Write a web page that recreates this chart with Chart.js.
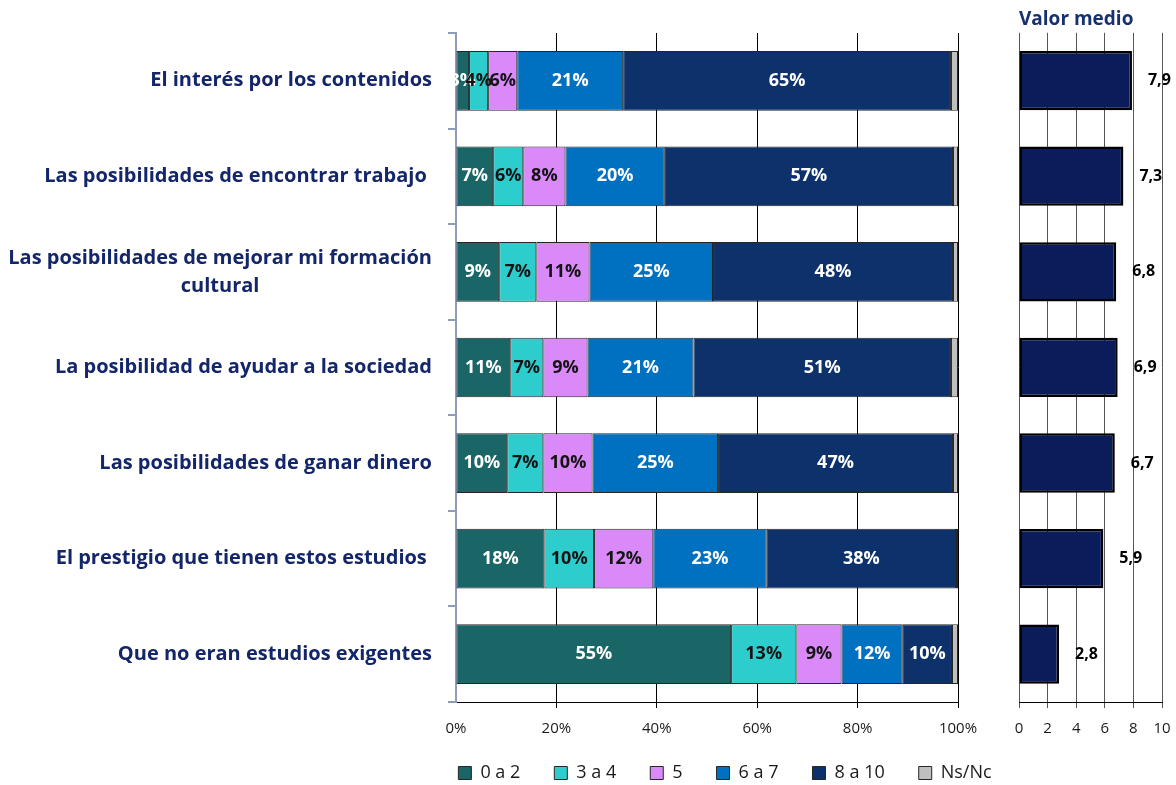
<!DOCTYPE html>
<html lang="es">
<head>
<meta charset="utf-8">
<title>Valor medio</title>
<script src="https://cdn.jsdelivr.net/npm/chart.js@4.4.1/dist/chart.umd.min.js"></script>
<style>
    html, body { margin: 0; padding: 0; overflow: hidden; background: #fff; }
    #graficoIzq { position: absolute; left: 0; top: 0; }
    #graficoDer { position: absolute; left: 1000px; top: 0; }
</style>
</head>
<body>
<canvas id="graficoIzq" width="1032" height="802"></canvas>
<canvas id="graficoDer" width="176" height="785"></canvas>

<script>
const categorias = [
    'El interés por los contenidos',
    'Las posibilidades de encontrar trabajo ',
    ['Las posibilidades de mejorar mi formación', 'cultural'],
    'La posibilidad de ayudar a la sociedad',
    'Las posibilidades de ganar dinero',
    'El prestigio que tienen estos estudios ',
    'Que no eran estudios exigentes'
];

// porcentajes por tramo de valoración
const s0a2  = [2.6, 7.4, 8.6, 10.8, 10.2, 17.6, 54.8];
const s3a4  = [3.8, 6.0, 7.4, 6.6, 7.2, 9.9, 13.0];
const s5    = [5.8, 8.4, 10.6, 8.8, 9.8, 11.8, 9.0];
const s6a7  = [21.1, 19.8, 24.6, 21.1, 25.0, 22.6, 12.2];
const s8a10 = [65.3, 57.4, 47.8, 51.3, 46.8, 37.7, 9.8];
const nsnc  = [1.4, 1.0, 1.0, 1.4, 1.0, 0.4, 1.2];

const valorMedio = [7.9, 7.3, 6.8, 6.9, 6.7, 5.9, 2.8];

const ticksPorcentaje = [0, 20, 40, 60, 80, 100];
const ticksValor = [0, 2, 4, 6, 8, 10];

Chart.defaults.font.family = "'Open Sans', sans-serif";

// textos de las categorias a la izquierda
const etiquetasCategorias = {
    id: 'etiquetasCategorias',
    afterDraw(chart) {
        const c = chart.ctx;
        const ejeY = chart.scales.y;
        c.save();
        c.font = "bold 20px 'Open Sans'";
        c.fillStyle = '#14266a';
        c.textBaseline = 'middle';
        categorias.forEach((cat, i) => {
            const lineas = Array.isArray(cat) ? cat : [cat];
            const yc = ejeY.getPixelForValue(i);
            const ancho = Math.max(...lineas.map(l => c.measureText(l).width));
            lineas.forEach((l, j) => {
                const yl = yc + (j - (lineas.length - 1) / 2) * 28;
                if (lineas.length > 1) {
                    c.textAlign = 'center';
                    c.fillText(l, 432 - ancho / 2, yl);
                } else {
                    c.textAlign = 'right';
                    c.fillText(l, 432, yl);
                }
            });
        });
        c.restore();
    }
};

// porcentajes dentro de cada tramo
const etiquetasBarras = {
    id: 'etiquetasBarras',
    afterDatasetsDraw(chart) {
        const c = chart.ctx;
        c.save();
        c.font = "bold 18px 'Open Sans'";
        c.textAlign = 'center';
        c.textBaseline = 'middle';
        chart.data.datasets.forEach((ds, i) => {
            if (!ds.colorTexto) return;
            chart.getDatasetMeta(i).data.forEach((barra, j) => {
                c.fillStyle = ds.colorTexto;
                c.fillText(Math.round(ds.data[j]) + '%', (barra.x + barra.base) / 2, barra.y);
            });
        });
        c.restore();
    }
};

// sube un poco la leyenda
const subirLeyenda = {
    id: 'subirLeyenda',
    afterLayout(chart) {
        chart.legend.top -= 10;
        chart.legend.bottom -= 10;
    }
};

const valoresMedios = {
    id: 'valoresMedios',
    afterDatasetsDraw(chart) {
        const c = chart.ctx;
        c.save();
        c.font = "bold 16px 'Open Sans'";
        c.fillStyle = '#000';
        c.textAlign = 'left';
        c.textBaseline = 'middle';
        chart.getDatasetMeta(0).data.forEach((barra, j) => {
            c.fillText(valorMedio[j].toFixed(1).replace('.', ','), barra.x + 16, barra.y);
        });
        c.restore();
    }
};

new Chart(document.getElementById('graficoIzq'), {
    type: 'bar',
    data: {
        labels: categorias,
        datasets: [
            { label: '0 a 2', data: s0a2, backgroundColor: '#1a6565', colorTexto: '#fff' },
            { label: '3 a 4', data: s3a4, backgroundColor: '#2ecdcd', colorTexto: '#141414' },
            { label: '5', data: s5, backgroundColor: '#d98af8', colorTexto: '#141414' },
            { label: '6 a 7', data: s6a7, backgroundColor: '#0070c0', colorTexto: '#fff' },
            { label: '8 a 10', data: s8a10, backgroundColor: '#0d326b', colorTexto: '#fff' },
            { label: 'Ns/Nc', data: nsnc, backgroundColor: '#bfbfbf' }
        ]
    },
    options: {
        indexAxis: 'y',
        responsive: false,
        animation: false,
        layout: { padding: { left: 418, top: 33, right: 0, bottom: 0 } },
        datasets: {
            bar: { borderColor: '#262626', borderWidth: 1, borderSkipped: false, categoryPercentage: 1, barPercentage: 0.625 }
        },
        scales: {
            x: {
                stacked: true,
                min: 0,
                max: 100,
                afterBuildTicks: eje => { eje.ticks = ticksPorcentaje.map(v => ({ value: v })); },
                ticks: { callback: v => v + '%', color: '#1a1a1a', font: { size: 15 }, padding: 12 },
                grid: {
                    color: ctx => (ctx.tick && ctx.tick.value === 0) ? 'rgba(0,0,0,0)' : '#000',
                    tickLength: 6
                },
                border: { color: '#000' },
                afterFit: eje => { eje.paddingRight = 74; eje.height = 38; }
            },
            y: {
                stacked: true,
                ticks: { display: false },
                grid: { drawOnChartArea: false, tickLength: 8, color: '#8e9bbb', lineWidth: 2 },
                border: { color: '#8e9bbb', width: 2 },
                afterFit: eje => { eje.width = 38; }
            }
        },
        plugins: {
            legend: {
                position: 'bottom',
                labels: { boxWidth: 13, boxHeight: 13, padding: 34, color: '#1a1a1a', font: { size: 18 } }
            },
            tooltip: { enabled: false }
        }
    },
    plugins: [etiquetasCategorias, etiquetasBarras, subirLeyenda]
});

new Chart(document.getElementById('graficoDer'), {
    type: 'bar',
    data: {
        labels: categorias,
        datasets: [{
            label: 'Valor medio',
            data: valorMedio,
            backgroundColor: '#0a1d5a',
            borderColor: '#000',
            borderWidth: 2.5,
            borderSkipped: false,
            categoryPercentage: 1,
            barPercentage: 0.62
        }]
    },
    options: {
        indexAxis: 'y',
        responsive: false,
        animation: false,
        layout: { padding: { left: 19, right: 8, top: 0, bottom: 45 } },
        scales: {
            x: {
                min: 0,
                max: 10,
                afterBuildTicks: eje => { eje.ticks = ticksValor.map(v => ({ value: v })); },
                ticks: { color: '#1a1a1a', font: { size: 15 }, padding: 12 },
                grid: { color: '#555', tickLength: 6 },
                border: { color: '#000' },
                afterFit: eje => { eje.height = 38; eje.paddingRight = 14; }
            },
            y: { display: false }
        },
        plugins: {
            legend: { display: false },
            title: {
                display: true,
                text: 'Valor medio',
                align: 'start',
                color: '#17306e',
                font: { size: 19, weight: 'bold' },
                padding: { top: 8, bottom: 2 }
            },
            tooltip: { enabled: false }
        }
    },
    plugins: [valoresMedios]
});
</script>
</body>
</html>
